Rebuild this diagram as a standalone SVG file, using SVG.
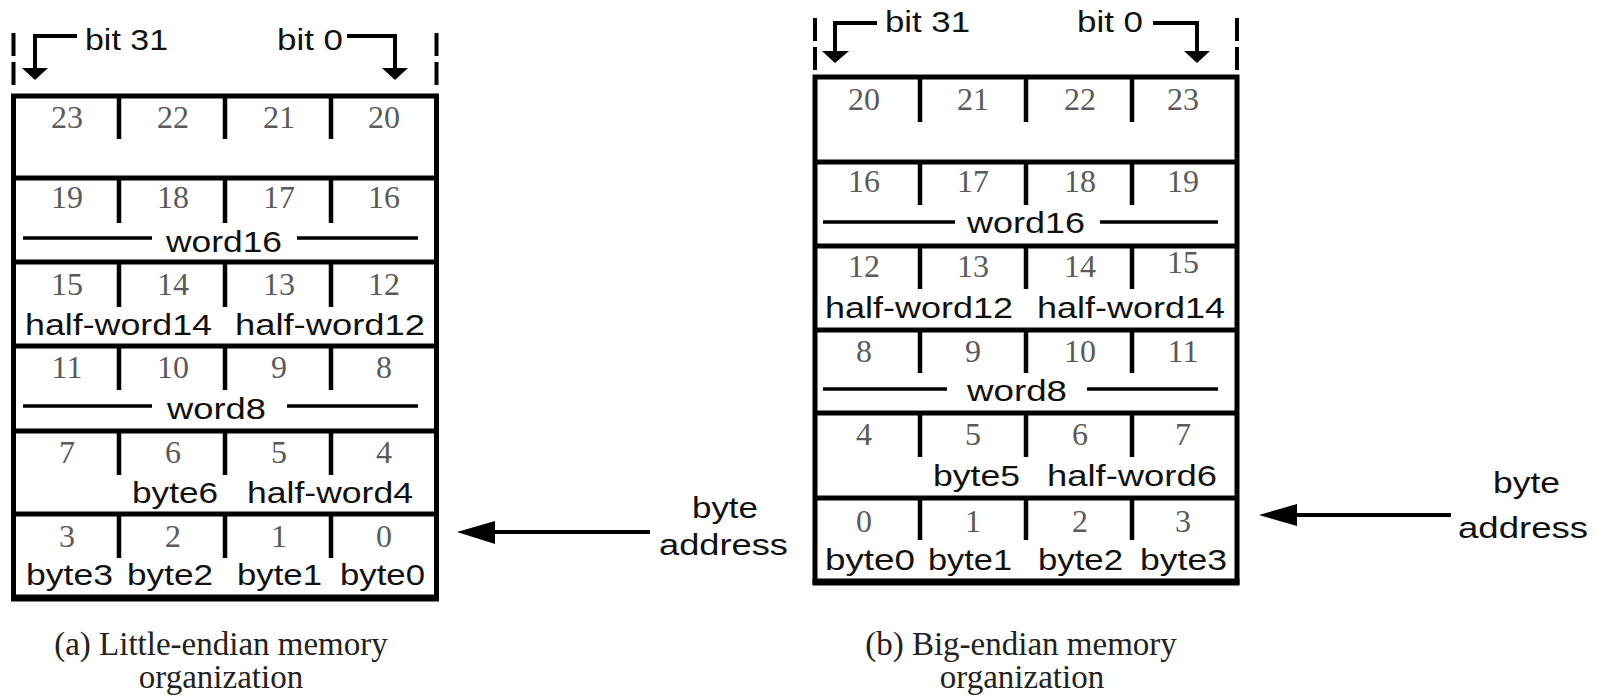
<svg xmlns="http://www.w3.org/2000/svg" width="1597" height="699" viewBox="0 0 1597 699">
  <style>
    .frame { fill: none; stroke: #000; stroke-width: 5; }
    .rule { stroke: #000; stroke-width: 5; }
    .base { stroke: #000; stroke-width: 7; }
    .div { stroke: #000; stroke-width: 4.5; }
    .span { stroke: #000; stroke-width: 3.5; }
    .dash { stroke: #000; stroke-width: 4; stroke-dasharray: 23 6; }
    .arr { fill: none; stroke: #000; stroke-width: 4; }
    .head { fill: #000; }
    .num { font-family: "Liberation Serif", "Times New Roman", serif; font-size: 32px; fill: #5a5a5a; text-anchor: middle; }
    .lbl { font-family: "Liberation Sans", Arial, sans-serif; font-size: 30px; fill: #111; }
    .cap { font-family: "Liberation Serif", "Times New Roman", serif; font-size: 33px; fill: #222; text-anchor: middle; }
  </style>

  <!-- (a) little-endian memory block -->
  <g id="le-memory">
    <line class="dash" x1="13.5" y1="33" x2="13.5" y2="90"/>
    <line class="dash" x1="436.5" y1="33" x2="436.5" y2="90"/>
    <text class="lbl" x="85" y="50" textLength="83" lengthAdjust="spacingAndGlyphs">bit 31</text>
    <text class="lbl" x="277" y="50" textLength="66" lengthAdjust="spacingAndGlyphs">bit 0</text>

    <rect class="frame" x="13.5" y="96" width="423" height="502"/>
    <line class="rule" x1="13.5" y1="178" x2="436.5" y2="178"/>
    <line class="rule" x1="13.5" y1="262" x2="436.5" y2="262"/>
    <line class="rule" x1="13.5" y1="346" x2="436.5" y2="346"/>
    <line class="rule" x1="13.5" y1="431" x2="436.5" y2="431"/>
    <line class="rule" x1="13.5" y1="514" x2="436.5" y2="514"/>
    <line class="base" x1="11" y1="598" x2="439" y2="598"/>

    <!-- byte dividers -->
    <path class="div" d="M119,96v43M225,96v43M331,96v43
                         M119,178v45M225,178v45M331,178v45
                         M119,262v45M225,262v45M331,262v45
                         M119,346v44M225,346v44M331,346v44
                         M119,431v44M225,431v44M331,431v44
                         M119,514v44M225,514v44M331,514v44"/>

    <!-- byte addresses -->
    <text class="num" x="67" y="128">23</text><text class="num" x="173" y="128">22</text><text class="num" x="279" y="128">21</text><text class="num" x="384" y="128">20</text>
    <text class="num" x="67" y="208">19</text><text class="num" x="173" y="208">18</text><text class="num" x="279" y="208">17</text><text class="num" x="384" y="208">16</text>
    <text class="num" x="67" y="295">15</text><text class="num" x="173" y="295">14</text><text class="num" x="279" y="295">13</text><text class="num" x="384" y="295">12</text>
    <text class="num" x="67" y="378">11</text><text class="num" x="173" y="378">10</text><text class="num" x="279" y="378">9</text><text class="num" x="384" y="378">8</text>
    <text class="num" x="67" y="463">7</text><text class="num" x="173" y="463">6</text><text class="num" x="279" y="463">5</text><text class="num" x="384" y="463">4</text>
    <text class="num" x="67" y="547">3</text><text class="num" x="173" y="547">2</text><text class="num" x="279" y="547">1</text><text class="num" x="384" y="547">0</text>

    <!-- data labels -->
    <path class="span" d="M23,238H152M297,238H418M23,406H152M287,406H418"/>
    <text class="lbl" x="166" y="252" textLength="116" lengthAdjust="spacingAndGlyphs">word16</text>
    <text class="lbl" x="25" y="335" textLength="187" lengthAdjust="spacingAndGlyphs">half-word14</text>
    <text class="lbl" x="235" y="335" textLength="190" lengthAdjust="spacingAndGlyphs">half-word12</text>
    <text class="lbl" x="167" y="419" textLength="99" lengthAdjust="spacingAndGlyphs">word8</text>
    <text class="lbl" x="132" y="503" textLength="86" lengthAdjust="spacingAndGlyphs">byte6</text>
    <text class="lbl" x="247" y="503" textLength="166" lengthAdjust="spacingAndGlyphs">half-word4</text>
    <text class="lbl" x="26" y="585" textLength="87" lengthAdjust="spacingAndGlyphs">byte3</text>
    <text class="lbl" x="127" y="585" textLength="86" lengthAdjust="spacingAndGlyphs">byte2</text>
    <text class="lbl" x="237" y="585" textLength="85" lengthAdjust="spacingAndGlyphs">byte1</text>
    <text class="lbl" x="340" y="585" textLength="85" lengthAdjust="spacingAndGlyphs">byte0</text>

    <text class="lbl" x="692" y="518" textLength="66" lengthAdjust="spacingAndGlyphs">byte</text>
    <text class="lbl" x="659" y="555" textLength="129" lengthAdjust="spacingAndGlyphs">address</text>
  </g>

  <!-- (b) big-endian memory block -->
  <g id="be-memory">
    <line class="dash" x1="815" y1="18" x2="815" y2="72"/>
    <line class="dash" x1="1237" y1="18" x2="1237" y2="72"/>
    <text class="lbl" x="885" y="32" textLength="85" lengthAdjust="spacingAndGlyphs">bit 31</text>
    <text class="lbl" x="1077" y="32" textLength="66" lengthAdjust="spacingAndGlyphs">bit 0</text>

    <rect class="frame" x="815" y="77" width="422" height="505"/>
    <line class="rule" x1="815" y1="162" x2="1237" y2="162"/>
    <line class="rule" x1="815" y1="246" x2="1237" y2="246"/>
    <line class="rule" x1="815" y1="330" x2="1237" y2="330"/>
    <line class="rule" x1="815" y1="413" x2="1237" y2="413"/>
    <line class="rule" x1="815" y1="498" x2="1237" y2="498"/>
    <line class="base" x1="812.5" y1="582" x2="1239.5" y2="582"/>

    <path class="div" d="M920,77v45M1026,77v45M1132,77v45
                         M920,162v43M1026,162v43M1132,162v43
                         M920,246v43M1026,246v43M1132,246v43
                         M920,330v43M1026,330v43M1132,330v43
                         M920,413v44M1026,413v44M1132,413v44
                         M920,498v42M1026,498v42M1132,498v42"/>

    <text class="num" x="864" y="110">20</text><text class="num" x="973" y="110">21</text><text class="num" x="1080" y="110">22</text><text class="num" x="1183" y="110">23</text>
    <text class="num" x="864" y="192">16</text><text class="num" x="973" y="192">17</text><text class="num" x="1080" y="192">18</text><text class="num" x="1183" y="192">19</text>
    <text class="num" x="864" y="277">12</text><text class="num" x="973" y="277">13</text><text class="num" x="1080" y="277">14</text><text class="num" x="1183" y="273">15</text>
    <text class="num" x="864" y="362">8</text><text class="num" x="973" y="362">9</text><text class="num" x="1080" y="362">10</text><text class="num" x="1183" y="362">11</text>
    <text class="num" x="864" y="445">4</text><text class="num" x="973" y="445">5</text><text class="num" x="1080" y="445">6</text><text class="num" x="1183" y="445">7</text>
    <text class="num" x="864" y="532">0</text><text class="num" x="973" y="532">1</text><text class="num" x="1080" y="532">2</text><text class="num" x="1183" y="532">3</text>

    <path class="span" d="M823,222H955M1100,222H1218M823,389H947M1087,389H1218"/>
    <text class="lbl" x="967" y="233" textLength="118" lengthAdjust="spacingAndGlyphs">word16</text>
    <text class="lbl" x="825" y="318" textLength="188" lengthAdjust="spacingAndGlyphs">half-word12</text>
    <text class="lbl" x="1037" y="318" textLength="188" lengthAdjust="spacingAndGlyphs">half-word14</text>
    <text class="lbl" x="967" y="401" textLength="100" lengthAdjust="spacingAndGlyphs">word8</text>
    <text class="lbl" x="933" y="486" textLength="87" lengthAdjust="spacingAndGlyphs">byte5</text>
    <text class="lbl" x="1047" y="486" textLength="170" lengthAdjust="spacingAndGlyphs">half-word6</text>
    <text class="lbl" x="825" y="570" textLength="90" lengthAdjust="spacingAndGlyphs">byte0</text>
    <text class="lbl" x="928" y="570" textLength="84" lengthAdjust="spacingAndGlyphs">byte1</text>
    <text class="lbl" x="1038" y="570" textLength="85" lengthAdjust="spacingAndGlyphs">byte2</text>
    <text class="lbl" x="1140" y="570" textLength="87" lengthAdjust="spacingAndGlyphs">byte3</text>

    <text class="lbl" x="1493" y="493" textLength="67" lengthAdjust="spacingAndGlyphs">byte</text>
    <text class="lbl" x="1458" y="538" textLength="130" lengthAdjust="spacingAndGlyphs">address</text>
  </g>

  <!-- captions -->
  <g id="captions">
    <text class="cap" x="221" y="655">(a) Little-endian memory</text>
    <text class="cap" x="221" y="688">organization</text>
    <text class="cap" x="1021" y="655">(b) Big-endian memory</text>
    <text class="cap" x="1022" y="688">organization</text>
  </g>

  <!-- arrows -->
  <g id="connectors">
    <!-- bit-order markers -->
    <path class="arr" d="M77,36H35V69"/>
    <polygon class="head" points="22,68 48,68 35,80"/>
    <path class="arr" d="M347,36H395V69"/>
    <polygon class="head" points="382,68 408,68 395,80"/>
    <path class="arr" d="M877,23H835V52"/>
    <polygon class="head" points="822,51 849,51 835,63"/>
    <path class="arr" d="M1153,23H1197V52"/>
    <polygon class="head" points="1184,51 1210,51 1197,63"/>

    <!-- byte address direction -->
    <line class="arr" x1="650" y1="532" x2="494" y2="532"/>
    <polygon class="head" points="457,532 495,521 495,544"/>
    <line class="arr" x1="1451" y1="515" x2="1296" y2="515"/>
    <polygon class="head" points="1259,515 1297,504 1297,526"/>
  </g>
</svg>
